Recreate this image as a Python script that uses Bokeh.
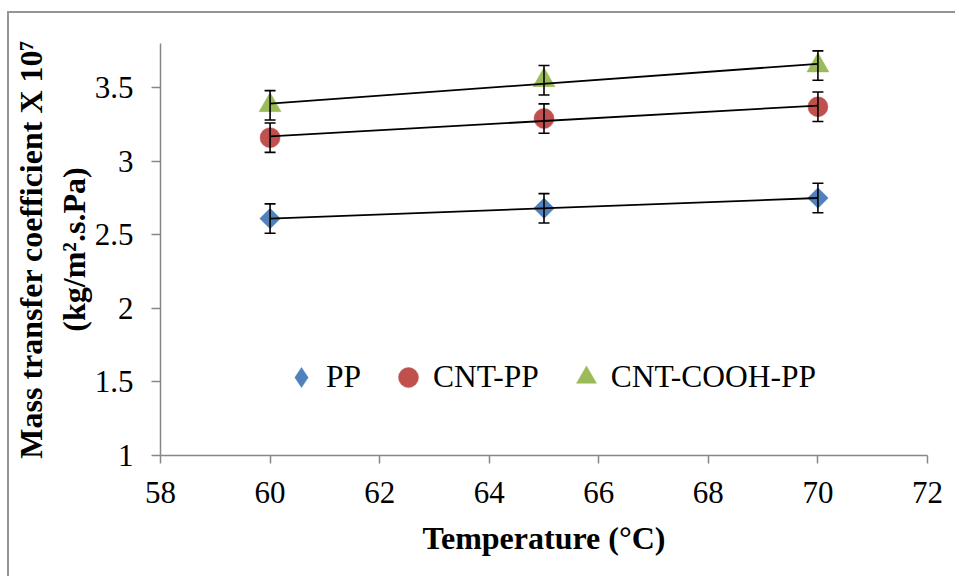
import numpy as np
from bokeh.plotting import figure
from bokeh.models import ColumnDataSource, Whisker, Legend, LegendItem, FixedTicker, TeeHead
from bokeh.embed import file_html
from bokeh.resources import INLINE

# ---- data ----
temperature = [60, 65, 70]
pp = [2.61, 2.68, 2.75]
cnt_pp = [3.16, 3.29, 3.37]
cnt_cooh_pp = [3.38, 3.55, 3.65]
err_pp = [0.10, 0.10, 0.10]
err_cnt_pp = [0.10, 0.10, 0.10]
err_cnt_cooh_pp = [0.10, 0.10, 0.10]
series_names = ["PP", "CNT-PP", "CNT-COOH-PP"]
x_ticks = [58, 60, 62, 64, 66, 68, 70, 72]
y_ticks = [1, 1.5, 2, 2.5, 3, 3.5]
y_tick_labels = ["1", "1.5", "2", "2.5", "3", "3.5"]

FONT = "Liberation Serif"
GRAY = "#878787"

p = figure(width=948, height=565, x_range=(58, 72), y_range=(1, 3.8),
           output_backend="svg", toolbar_location=None,
           min_border_left=144, min_border_right=30,
           min_border_top=30, min_border_bottom=123)
p.styles = {"margin-left": "7px", "margin-top": "11px",
            "border-left": "2px solid #959595", "border-top": "2px solid #959595"}
p.outline_line_color = None
p.xgrid.grid_line_color = None
p.ygrid.grid_line_color = None
p.background_fill_color = "white"
p.border_fill_color = "white"

# axes
for ax in (p.xaxis[0], p.yaxis[0]):
    ax.axis_line_color = GRAY
    ax.axis_line_width = 1.5
    ax.major_tick_line_color = GRAY
    ax.major_tick_line_width = 1.5
    ax.major_tick_in = 0
    ax.minor_tick_line_color = None
    ax.major_label_text_font = FONT
    ax.major_label_text_font_size = "31px"
    ax.major_label_text_color = "black"
    ax.axis_label_text_font = FONT
    ax.axis_label_text_font_size = "32px"
    ax.axis_label_text_font_style = "bold"
    ax.axis_label_text_color = "black"

p.xaxis.ticker = FixedTicker(ticks=x_ticks)
p.xaxis.major_tick_out = 8
p.xaxis.major_label_standoff = 18
p.xaxis.axis_label = "Temperature (\u00b0C)"
p.xaxis.axis_label_standoff = 14

p.yaxis.ticker = FixedTicker(ticks=y_ticks)
p.yaxis.major_label_overrides = {t: l for t, l in zip(y_ticks, y_tick_labels)}
p.yaxis.major_tick_out = 9
p.yaxis.major_label_standoff = 18
p.yaxis.axis_label = "Mass transfer coefficient X 10\u2077\n(kg/m\u00b2.s.Pa)"
p.yaxis.axis_label_standoff = 0

colors = ["#4F81BD", "#C0504D", "#9BBB59"]
values = [pp, cnt_pp, cnt_cooh_pp]
errors = [err_pp, err_cnt_pp, err_cnt_cooh_pp]
markers = [("square", 14.5, np.pi / 4), ("circle", 20, 0), ("triangle", 22, 0)]
legend_markers = ["diamond", "circle", "triangle"]

legend_items = []
for name, col, vals, errs, (mk, sz, ang), lmk in zip(series_names, colors, values, errors,
                                                      markers, legend_markers):
    v = np.array(vals)
    e = np.array(errs)
    src = ColumnDataSource(dict(x=temperature, y=vals, upper=(v + e).tolist(), lower=(v - e).tolist()))
    r = p.scatter("x", "y", source=src, marker=mk, size=sz, angle=ang,
                  fill_color=col, line_color=col, line_width=0.5)
    # legend swatch only (no visible point of its own)
    lr = p.scatter(x=[np.nan], y=[np.nan], marker=lmk, size=sz,
                   fill_color=col, line_color=col, line_width=0.5)
    legend_items.append(LegendItem(label=name, renderers=[lr]))
    w = Whisker(base="x", upper="upper", lower="lower", source=src,
                line_color="black", line_width=1.6, level="annotation",
                upper_head=TeeHead(size=11, line_color="black", line_width=1.6),
                lower_head=TeeHead(size=11, line_color="black", line_width=1.6))
    p.add_layout(w)
    # linear trendline fitted to the series
    k, b = np.polyfit(temperature, vals, 1)
    xs = [temperature[0], temperature[-1]]
    p.line(xs, [k * xs[0] + b, k * xs[1] + b], line_color="black", line_width=1.8, level="overlay")

legend = Legend(items=legend_items, orientation="horizontal", location=(116, 53),
                glyph_width=50, glyph_height=50, label_standoff=0, spacing=22,
                padding=0, margin=0, border_line_color=None, background_fill_alpha=0,
                label_text_font=FONT, label_text_font_size="31.5px", label_text_color="black")
p.add_layout(legend, "center")

open("out.html", "w").write(file_html(p, INLINE))
